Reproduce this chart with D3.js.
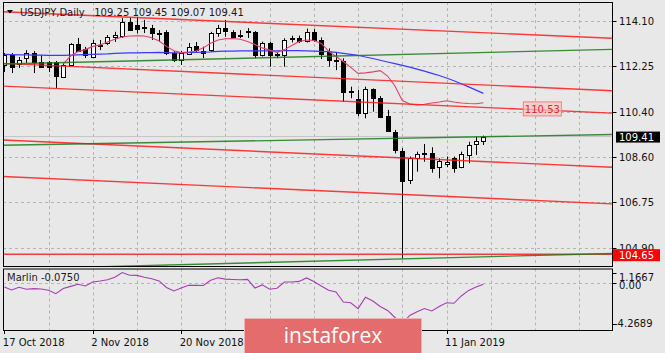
<!DOCTYPE html>
<html><head><meta charset="utf-8">
<script src="https://cdn.jsdelivr.net/npm/d3@7"></script>
<style>
body{margin:0;background:#e8e8e8;}
svg{display:block;font-family:"DejaVu Sans",sans-serif;}
</style>
</head><body><svg id="c" width="665" height="353"></svg>
<script>
// ---------- data ----------
const dates = ["17 Oct 2018","18 Oct 2018","19 Oct 2018","22 Oct 2018","23 Oct 2018","24 Oct 2018","25 Oct 2018","26 Oct 2018","29 Oct 2018","30 Oct 2018",
"31 Oct 2018","1 Nov 2018","2 Nov 2018","5 Nov 2018","6 Nov 2018","7 Nov 2018","8 Nov 2018","9 Nov 2018","12 Nov 2018","13 Nov 2018",
"14 Nov 2018","15 Nov 2018","16 Nov 2018","19 Nov 2018","20 Nov 2018","21 Nov 2018","22 Nov 2018","23 Nov 2018","26 Nov 2018","27 Nov 2018",
"28 Nov 2018","29 Nov 2018","30 Nov 2018","3 Dec 2018","4 Dec 2018","5 Dec 2018","6 Dec 2018","7 Dec 2018","10 Dec 2018","11 Dec 2018",
"12 Dec 2018","13 Dec 2018","14 Dec 2018","17 Dec 2018","18 Dec 2018","19 Dec 2018","20 Dec 2018","21 Dec 2018","24 Dec 2018","26 Dec 2018",
"27 Dec 2018","28 Dec 2018","31 Dec 2018","2 Jan 2019","3 Jan 2019","4 Jan 2019","7 Jan 2019","8 Jan 2019","9 Jan 2019","10 Jan 2019",
"11 Jan 2019","14 Jan 2019","15 Jan 2019","16 Jan 2019","17 Jan 2019","18 Jan 2019"];

const open = [112.31,112.71,112.35,112.58,112.81,112.44,112.43,112.44,111.83,112.31,
113.16,112.94,112.64,113.05,113.19,113.45,113.48,114.06,113.92,113.86,
113.79,113.59,113.63,112.78,112.51,112.78,113.08,112.87,112.91,113.59,
113.79,113.65,113.54,113.62,113.66,112.71,113.19,112.70,112.71,113.36,
113.42,113.28,113.65,113.32,112.85,112.52,112.48,111.25,110.92,110.35,
111.32,110.96,110.24,109.61,108.84,107.63,108.53,108.74,108.73,108.17,
108.30,108.53,108.17,108.67,109.11,109.25];
const high = [112.79,112.79,112.63,112.91,112.87,112.71,112.47,112.47,112.39,113.19,
113.40,113.04,113.32,113.32,113.52,113.65,114.20,114.25,114.25,114.13,
113.93,113.72,113.72,112.87,112.87,113.20,113.24,113.05,113.65,113.93,
114.13,113.72,113.72,113.80,113.68,113.25,113.25,112.85,113.39,113.49,
113.50,113.78,113.76,113.42,112.98,112.79,112.58,111.43,111.30,111.43,
111.36,111.05,110.49,109.68,108.94,108.60,108.80,109.11,108.98,108.53,
108.60,108.60,108.80,109.20,109.41,109.45];
const low = [112.02,111.98,112.19,112.39,111.98,112.19,112.02,111.38,111.78,112.27,
112.83,112.59,112.59,112.91,113.12,113.24,113.40,113.70,113.59,113.60,
113.32,113.24,112.71,112.43,112.31,112.71,112.83,112.59,112.83,113.45,
113.45,113.40,113.40,113.40,112.58,112.65,112.24,112.58,112.24,113.22,
113.20,113.22,113.25,112.55,112.24,112.10,110.82,110.96,110.24,110.15,
110.42,110.16,109.61,108.73,104.47,107.49,107.99,108.39,107.95,107.72,
108.17,107.95,108.13,108.33,108.67,109.07];
const close = [112.71,112.24,112.51,112.78,112.44,112.24,112.23,111.87,112.31,113.15,
112.89,112.71,113.19,113.10,113.45,113.52,114.06,113.75,113.75,113.80,
113.59,113.56,112.78,112.51,112.78,113.05,112.91,112.79,113.59,113.79,
113.65,113.45,113.52,113.68,112.74,113.19,112.71,112.74,113.32,113.42,
113.28,113.66,113.32,112.74,112.51,112.50,111.23,111.21,110.35,111.32,
110.96,110.21,109.65,108.87,107.63,108.53,108.71,108.73,108.13,108.43,
108.37,108.13,108.71,109.07,109.24,109.41];

const maSlow = [112.74,112.73,112.72,112.72,112.71,112.71,112.70,112.70,112.70,112.71,
112.72,112.73,112.74,112.75,112.76,112.78,112.79,112.80,112.80,112.81,
112.81,112.82,112.81,112.80,112.80,112.81,112.82,112.83,112.84,112.86,
112.87,112.87,112.88,112.88,112.88,112.88,112.88,112.88,112.89,112.89,
112.89,112.88,112.87,112.86,112.85,112.82,112.78,112.74,112.70,112.63,
112.57,112.50,112.43,112.36,112.29,112.22,112.14,112.06,111.97,111.88,
111.78,111.67,111.55,111.42,111.29,111.16];
const maFast = [null,null,null,null,null,null,null,null,112.35,112.67,
112.85,112.93,113.06,113.12,113.24,113.35,113.44,113.48,113.49,113.48,
113.41,113.28,113.06,112.88,112.81,112.83,112.87,113.00,113.19,113.32,
113.37,113.38,113.35,113.26,113.14,113.00,112.91,112.82,112.93,113.10,
113.26,113.32,113.30,113.18,112.87,112.65,112.45,112.21,111.97,111.99,
112.03,112.08,111.86,111.46,110.87,110.73,110.69,110.72,110.77,110.81,
110.86,110.81,110.77,110.75,110.74,110.78];
const marlin = [-0.37,-0.69,-0.40,-0.62,-0.55,-0.59,-0.72,-1.09,-0.53,-0.31,
-0.09,-0.27,0.16,0.27,0.40,0.67,1.1667,0.87,0.86,0.66,
0.51,0.27,-0.43,-0.80,-0.48,-0.19,-0.20,-0.21,0.35,0.61,
0.46,0.43,0.39,0.43,-0.48,-0.15,-0.61,-0.51,0.16,0.16,
0.22,0.59,0.21,-0.27,-0.72,-0.90,-1.97,-2.05,-2.68,-1.47,
-1.86,-2.45,-2.87,-3.62,-4.2689,-3.40,-3.01,-2.66,-2.93,-2.45,
-2.05,-2.11,-1.33,-0.74,-0.37,-0.0750];

const priceTicks = [114.10,112.25,110.40,108.60,106.75,104.90];
const marlinTicks = [1.1667,0.00,-4.2689];
const timeTickBars = [0,12,24,36,48,60];
const timeLabelBars = [0,12,24,60];   // the others sit under the logo
// trend lines: [bar1, price1, bar2, price2]
const redLines = [[0,114.46,80,113.42],[0,112.37,80,111.30],[0,111.45,80,110.39],[0,109.27,80,108.20],[0,107.79,80,106.72],[0,104.65,80,104.65]];
const greenLines = [[0,112.35,80,112.92],[0,109.06,80,109.48],[40,104.35,80,104.66]];
const header = "USDJPY,Daily   109.25 109.45 109.07 109.41";
const lastPrice = 109.41, lowLevel = 104.65, lineLabel = 110.53;

// ---------- layout ----------
const W=665,H=353;
const L=3,R=612,T=2,B=266.5,MT=268.5,MB=330;
const svg=d3.select('#c');
svg.append('rect').attr('width',W).attr('height',H).attr('fill','#e8e8e8');
const defs=svg.append('defs');
defs.append('clipPath').attr('id','cm').append('rect').attr('x',L).attr('y',T).attr('width',R-L).attr('height',B-T);
defs.append('clipPath').attr('id','cs').append('rect').attr('x',L).attr('y',MT).attr('width',R-L).attr('height',MB-MT);

const x=d3.scaleLinear().domain([0,65]).range([4.3,483.4]);
const y=d3.scaleLinear().domain([104.90,114.10]).range([248,20.7]);
const ym=d3.scaleLinear().domain([-4.2689,1.1667]).range([323.6,272.5]);
const px=i=>Math.round(x(i))+0.5;

const main=svg.append('g').attr('clip-path','url(#cm)');
const sub=svg.append('g').attr('clip-path','url(#cs)');
const gridCol='#b4b4b4';

// vertical grid
const vg=d3.range(6,90,6).filter(i=>x(i)<R);
[ [main,T,B],[sub,MT,MB] ].forEach(([g,a,b])=>{
  g.selectAll(null).data(vg).enter().append('line')
   .attr('x1',d=>px(d)).attr('x2',d=>px(d)).attr('y1',a).attr('y2',b)
   .attr('stroke',gridCol).attr('stroke-dasharray','3,3');
});
// horizontal grid
main.selectAll(null).data(priceTicks).enter().append('line')
  .attr('x1',L).attr('x2',R).attr('y1',d=>Math.round(y(d))+0.5).attr('y2',d=>Math.round(y(d))+0.5)
  .attr('stroke',gridCol).attr('stroke-dasharray','3,3');
sub.append('line').attr('x1',L).attr('x2',R).attr('y1',Math.round(ym(0))+0.5).attr('y2',Math.round(ym(0))+0.5)
  .attr('stroke',gridCol).attr('stroke-dasharray','3,3');

// bid line
main.append('line').attr('x1',L).attr('x2',R).attr('y1',y(lastPrice)).attr('y2',y(lastPrice))
  .attr('stroke','#c4c4c4').attr('stroke-width',1);

// candles
const idx=d3.range(open.length);
const cg=main.append('g');
cg.selectAll(null).data(idx).enter().append('line')
  .attr('x1',px).attr('x2',px).attr('y1',i=>y(high[i])).attr('y2',i=>y(low[i]))
  .attr('stroke','#000').attr('stroke-width',1);
cg.selectAll(null).data(idx).enter().append('rect')
  .attr('x',i=>px(i)-2).attr('width',4)
  .attr('y',i=>Math.round(y(Math.max(open[i],close[i])))+0.5)
  .attr('height',i=>Math.max(1,Math.round(Math.abs(y(open[i])-y(close[i])))))
  .attr('fill',i=>close[i]>=open[i]?'#fff':'#000')
  .attr('stroke','#000').attr('stroke-width',1);

// moving averages
const ln=d3.line().defined(d=>d[1]!=null).x(d=>x(d[0])).y(d=>y(d[1]));
main.append('path').attr('d',ln(maSlow.map((v,i)=>[i,v]))).attr('fill','none').attr('stroke','#3a3aff').attr('stroke-width',1.2);
main.append('path').attr('d',ln(maFast.map((v,i)=>[i,v]))).attr('fill','none').attr('stroke','#e2406e').attr('stroke-width',1.1);

// trend lines (extended across the panel)
const i0=x.invert(L), i1=x.invert(R);
function tl(g,arr,col){
  g.selectAll(null).data(arr).enter().append('line')
   .attr('x1',L).attr('x2',R)
   .attr('y1',d=>y(d[1]+(d[3]-d[1])*(i0-d[0])/(d[2]-d[0])))
   .attr('y2',d=>y(d[1]+(d[3]-d[1])*(i1-d[0])/(d[2]-d[0])))
   .attr('stroke',col).attr('stroke-width',1.4).attr('stroke-opacity',0.85);
}
tl(main,redLines,'#ff1a1a');
tl(main,greenLines,'#1a7a1a');

// 110.53 label
const lx=x(73), ly=y(lineLabel);
main.append('rect').attr('x',lx-19).attr('y',ly-7).attr('width',38).attr('height',14)
  .attr('fill','#f6c8c8').attr('fill-opacity',0.7).attr('stroke','#f08080');
main.append('text').attr('x',lx).attr('y',ly).attr('dy','0.36em').attr('text-anchor','middle')
  .attr('font-size',10).attr('fill','#e02828').text(lineLabel.toFixed(2));

// marlin line
const lm=d3.line().x((d,i)=>x(i)).y(d=>ym(d));
sub.append('path').attr('d',lm(marlin)).attr('fill','none').attr('stroke','#a83cb4').attr('stroke-width',1.1);

// frames
svg.append('rect').attr('x',L+0.5).attr('y',T+0.5).attr('width',R-L).attr('height',B-T-0.5).attr('fill','none').attr('stroke','#000');
svg.append('rect').attr('x',L+0.5).attr('y',MT+0.5).attr('width',R-L).attr('height',MB-MT).attr('fill','none').attr('stroke','#000');

// right price axis
const ax=svg.append('g').attr('font-size',10).attr('fill','#111');
priceTicks.forEach(p=>{
  const yy=Math.round(y(p))+0.5;
  ax.append('line').attr('x1',R+0.5).attr('x2',R+4.5).attr('y1',yy).attr('y2',yy).attr('stroke','#000');
  ax.append('text').attr('x',619).attr('y',yy).attr('dy','0.36em').text(p.toFixed(2));
});
// last price label
const yl=y(lastPrice);
ax.append('rect').attr('x',616).attr('y',yl-5).attr('width',44).attr('height',11).attr('fill','#000');
ax.append('text').attr('x',619).attr('y',yl+0.5).attr('dy','0.36em').attr('fill','#fff').text(lastPrice.toFixed(2));
// low label
const yr=y(lowLevel);
ax.append('rect').attr('x',613).attr('y',yr-5).attr('width',47).attr('height',12).attr('fill','#ff0000');
ax.append('text').attr('x',619).attr('y',yr+1).attr('dy','0.36em').attr('fill','#fff').text(lowLevel.toFixed(2));

// marlin axis labels
const mOff={"1.1667":4.5,"0":1.5,"-4.2689":-0.6};
marlinTicks.forEach(v=>{
  const yy=ym(v);
  ax.append('line').attr('x1',R+0.5).attr('x2',R+4.5).attr('y1',Math.round(yy)+0.5).attr('y2',Math.round(yy)+0.5).attr('stroke','#000');
  ax.append('text').attr('x',v<0?614:619).attr('y',yy+mOff[String(v)]).attr('dy','0.36em')
    .text(v===0?'0.00':String(v));
});

// time axis
timeTickBars.forEach(i=>{
  svg.append('line').attr('x1',px(i)).attr('x2',px(i)).attr('y1',MB).attr('y2',MB+4).attr('stroke','#000');
});
timeLabelBars.forEach(i=>{
  svg.append('text').attr('x',Math.max(2,x(i)-1.5)).attr('y',346).attr('font-size',10).attr('fill','#111').text(dates[i]);
});

// header
svg.append('path').attr('d','M7,10 L13,10 L10,13.5 Z').attr('fill','#000');
svg.append('text').attr('x',20).attr('y',16).attr('font-size',10).attr('fill','#1a1a1a')
  .style('white-space','pre').text(header);
svg.append('text').attr('x',7).attr('y',281).attr('font-size',10).attr('fill','#1a1a1a').text('Marlin '+marlin[marlin.length-1].toFixed(4));

// logo
svg.append('rect').attr('x',244.5).attr('y',318.5).attr('width',177).attr('height',36).attr('rx',1)
  .attr('fill','#e56c6c').attr('stroke','#f3b0b0').attr('stroke-width',1);
svg.append('text').attr('x',333).attr('y',343).attr('text-anchor','middle').attr('font-size',21)
  .attr('font-family','"Open Sans",sans-serif').attr('fill','#fff').text('instaforex');
</script>
</body></html>
